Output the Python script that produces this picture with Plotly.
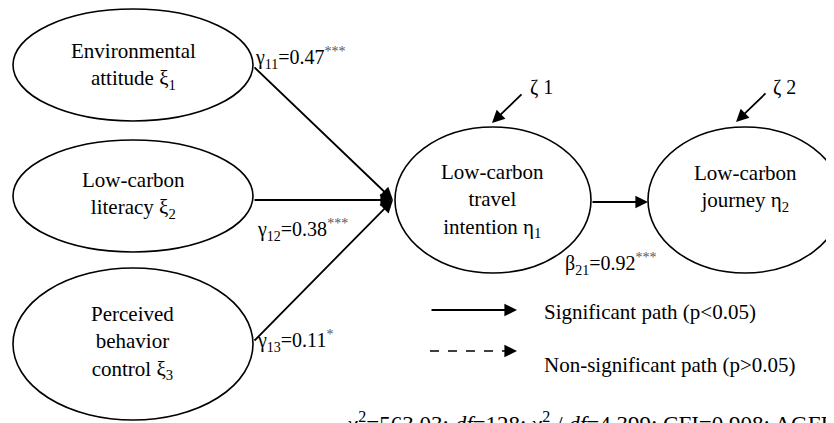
import plotly.graph_objects as go

# ---- content ----
node_names = ["Environmental<br>attitude ξ<sub>1</sub>",
              "Low-carbon<br>literacy ξ<sub>2</sub>",
              "Perceived<br>behavior<br>control ξ<sub>3</sub>",
              "Low-carbon<br>travel<br>intention η<sub>1</sub>",
              "Low-carbon<br>journey η<sub>2</sub>"]
path_labels = ["γ<sub>11</sub>=0.47", "γ<sub>12</sub>=0.38", "γ<sub>13</sub>=0.11", "β<sub>21</sub>=0.92"]
path_stars = ["***", "***", "*", "***"]
error_labels = ["ζ 1", "ζ 2"]
legend_labels = ["Significant path (p<0.05)", "Non-significant path (p>0.05)"]
fit_text = "χ<sup>2</sup>=563.03; <i>df</i>=128; χ<sup>2</sup> / <i>df</i>=4.399; CFI=0.908; AGFI"

# ---- layout geometry (pixel space) ----
ellipses = [(133, 65, 120, 56), (133, 196, 120, 56), (133, 344, 120, 76),
            (493, 200, 98, 73), (745, 200, 97, 73)]
label_pos = [(133, 66), (133, 195), (132, 342), (492, 200), (745, 188)]
paths = [((253, 66), (393, 200)), ((253, 200), (393, 200)),
         ((253, 342), (393, 200)), ((591, 202), (648, 202))]
path_label_pos = [(253, 58), (255, 230), (255, 341), (563, 264)]
err_arrows = [((523, 93), (492, 123)), ((767, 92), (736, 122))]
err_label_pos = [(541, 87), (784, 87)]

FONT = "Times New Roman, Liberation Serif, serif"
fig = go.Figure()
shapes = []
ann = []
for (cx, cy, rx, ry) in ellipses:
    shapes.append(dict(type="circle", xref="x", yref="y", x0=cx - rx, x1=cx + rx,
                       y0=cy - ry, y1=cy + ry, line=dict(color="black", width=1.6)))
for txt, (x, y) in zip(node_names, label_pos):
    ann.append(dict(x=x, y=y, text=txt, showarrow=False, xanchor="center", yanchor="middle",
                    font=dict(family=FONT, size=21, color="black")))
for (t, h) in paths + err_arrows:
    ann.append(dict(x=h[0], y=h[1], ax=t[0], ay=t[1], xref="x", yref="y", axref="x", ayref="y",
                    text="", showarrow=True, arrowhead=2, arrowsize=1.4, arrowwidth=1.8,
                    arrowcolor="black"))
for lab, st, (x, y) in zip(path_labels, path_stars, path_label_pos):
    ann.append(dict(x=x, y=y, text=lab + "<sup><span style='color:#555'>" + st + "</span></sup>",
                    showarrow=False, xanchor="left", yanchor="middle",
                    font=dict(family=FONT, size=20, color="black")))
for lab, (x, y) in zip(error_labels, err_label_pos):
    ann.append(dict(x=x, y=y, text=lab, showarrow=False, xanchor="center", yanchor="middle",
                    font=dict(family=FONT, size=20, color="black")))

# legend
ann.append(dict(x=517, y=310, ax=430, ay=310, xref="x", yref="y", axref="x", ayref="y",
                text="", showarrow=True, arrowhead=2, arrowsize=1.4, arrowwidth=1.8, arrowcolor="black"))
shapes.append(dict(type="line", xref="x", yref="y", x0=430, x1=508, y0=351, y1=351,
                   line=dict(color="black", width=1.6, dash="dash")))
ann.append(dict(x=517, y=351, ax=506, ay=351, xref="x", yref="y", axref="x", ayref="y",
                text="", showarrow=True, arrowhead=2, arrowsize=1.4, arrowwidth=1.8, arrowcolor="black"))
ann.append(dict(x=542, y=312, text=legend_labels[0], showarrow=False, xanchor="left", yanchor="middle",
                font=dict(family=FONT, size=21, color="black")))
ann.append(dict(x=542, y=365, text=legend_labels[1], showarrow=False, xanchor="left", yanchor="middle",
                font=dict(family=FONT, size=21, color="black")))
ann.append(dict(x=345, y=406, text=fit_text, showarrow=False, xanchor="left", yanchor="top",
                font=dict(family=FONT, size=23, color="black")))

# page body has an 8px margin; offset axis ranges so data units equal window pixels
fig.update_layout(width=834, height=423, margin=dict(l=0, r=0, t=0, b=0),
                  paper_bgcolor="white", plot_bgcolor="white",
                  font=dict(family=FONT),
                  xaxis=dict(range=[8, 842], visible=False, fixedrange=True),
                  yaxis=dict(range=[431, 8], visible=False, fixedrange=True),
                  shapes=shapes, annotations=ann, showlegend=False)
fig.write_html("out.html")
